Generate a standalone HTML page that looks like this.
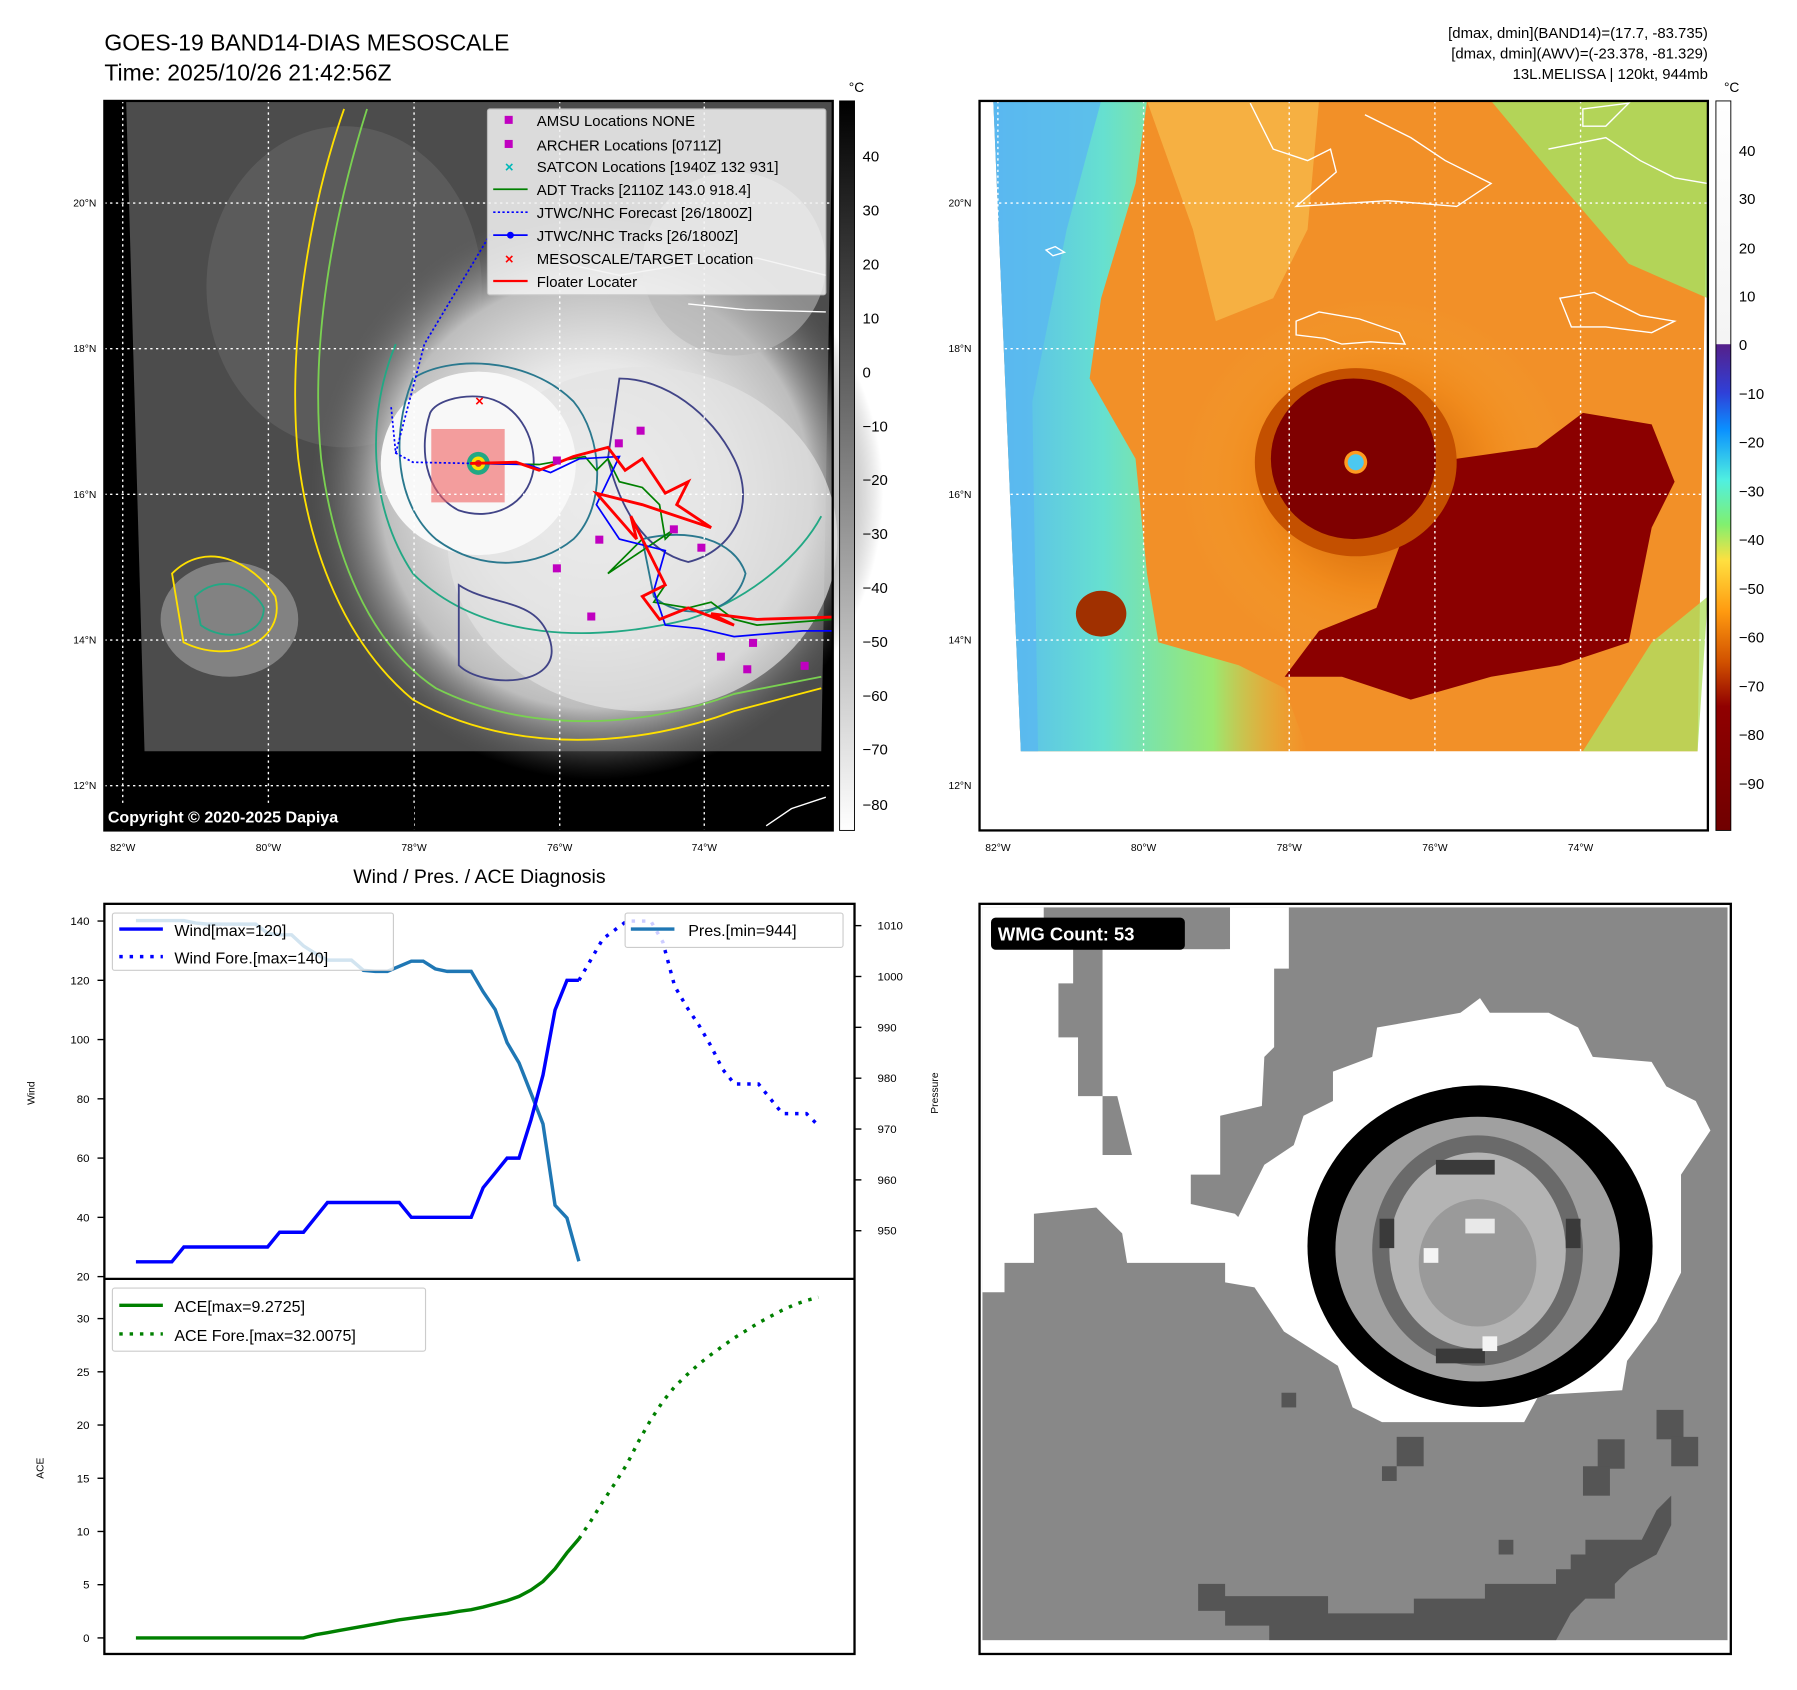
<!DOCTYPE html>
<html><head><meta charset="utf-8">
<style>
html,body{margin:0;padding:0;background:#fff;}
svg{display:block;font-family:"Liberation Sans","DejaVu Sans",sans-serif;}
</style></head>
<body>
<svg id="root" width="1797" height="1690" viewBox="0 0 1797 1690">
<defs>
<radialGradient id="cloudL" cx="0.5" cy="0.5" r="0.5">
<stop offset="0" stop-color="#ffffff"/><stop offset="0.45" stop-color="#e8e8e8"/><stop offset="0.75" stop-color="#bdbdbd"/><stop offset="1" stop-color="#5a5a5a" stop-opacity="0"/>
</radialGradient>
<radialGradient id="warmR" cx="0.5" cy="0.5" r="0.5">
<stop offset="0" stop-color="#c85a00"/><stop offset="0.6" stop-color="#f08a1c"/><stop offset="1" stop-color="#f5a030" stop-opacity="0"/>
</radialGradient>
<linearGradient id="leftR" x1="0" y1="0" x2="1" y2="0">
<stop offset="0" stop-color="#5ab8f0"/><stop offset="0.35" stop-color="#66e0d0"/><stop offset="0.7" stop-color="#9be870"/><stop offset="1" stop-color="#f0c040" stop-opacity="0"/>
</linearGradient>
<linearGradient id="cbL" x1="0" y1="0" x2="0" y2="1">
<stop offset="0" stop-color="#000"/><stop offset="1" stop-color="#fff"/>
</linearGradient>
<linearGradient id="cbR" x1="0" y1="0" x2="0" y2="1">
<stop offset="0" stop-color="#ffffff"/><stop offset="0.333" stop-color="#f4f4f4"/>
<stop offset="0.334" stop-color="#55208a"/><stop offset="0.4" stop-color="#2f40d8"/><stop offset="0.45" stop-color="#0a90ff"/>
<stop offset="0.52" stop-color="#50f0e0"/><stop offset="0.58" stop-color="#80f070"/><stop offset="0.63" stop-color="#ffe040"/>
<stop offset="0.7" stop-color="#ff9a10"/><stop offset="0.77" stop-color="#d05000"/><stop offset="0.83" stop-color="#900000"/><stop offset="1" stop-color="#700000"/>
</linearGradient>
</defs>
<g id="main" transform="scale(1.147)">

<!-- Titles -->
<text x="91" y="44" font-size="20">GOES-19 BAND14-DIAS MESOSCALE</text>
<text x="91" y="70" font-size="20">Time: 2025/10/26 21:42:56Z</text>
<g font-size="13" text-anchor="end">
<text x="1489" y="33">[dmax, dmin](BAND14)=(17.7, -83.735)</text>
<text x="1489" y="51">[dmax, dmin](AWV)=(-23.378, -81.329)</text>
<text x="1489" y="69">13L.MELISSA | 120kt, 944mb</text>
</g>

<!-- TOP LEFT MAP -->
<g>
<rect x="91" y="88" width="635" height="636" fill="#000"/>
<polygon points="110,88 726,88 716,655 126,655" fill="#4c4c4c"/>
<ellipse cx="300" cy="250" rx="120" ry="140" fill="#666" opacity="0.6"/>
<ellipse cx="200" cy="540" rx="60" ry="50" fill="#9a9a9a" opacity="0.7"/>
<ellipse cx="520" cy="430" rx="250" ry="250" fill="url(#cloudL)"/>
<ellipse cx="560" cy="470" rx="170" ry="150" fill="#e2e2e2" opacity="0.7"/>
<ellipse cx="417" cy="404" rx="85" ry="80" fill="#f8f8f8"/>
<ellipse cx="640" cy="230" rx="80" ry="80" fill="#b8b8b8" opacity="0.6"/>
<g fill="none" stroke-width="1.6">
<path d="M300,95 C270,180 250,300 260,400 C270,480 300,560 360,610 C450,660 560,650 640,620 L716,600" stroke="#ffe000"/>
<path d="M320,95 C290,190 270,300 280,400 C290,480 320,560 380,600 C460,640 560,635 640,605 L716,590" stroke="#7ad151"/>
<path d="M345,300 C320,360 320,440 360,500 C420,560 520,560 600,540 C660,520 700,480 716,450" stroke="#22a884"/>
<path d="M360,330 C340,380 345,440 380,470 C420,500 470,495 500,470 C530,440 525,380 500,350 C460,310 390,310 360,330Z" stroke="#2a788e"/>
<path d="M375,360 C365,390 370,430 400,445 C430,455 460,440 465,410 C468,380 450,350 420,346 C400,344 380,350 375,360Z" stroke="#414487"/>
<path d="M400,510 C430,530 470,520 480,560 C490,600 420,600 400,580 Z" stroke="#414487"/>
<path d="M540,330 C580,330 620,360 640,400 C660,440 640,480 600,490 C560,480 540,440 530,400 Z" stroke="#414487"/>
<path d="M560,470 C600,460 640,470 650,500 C640,540 590,540 570,520 Z" stroke="#2a788e"/>
<path d="M150,500 C180,470 220,490 240,520 C250,560 200,580 160,560 Z" stroke="#ffe000"/>
<path d="M170,520 C190,500 220,510 230,530 C230,555 195,560 175,545 Z" stroke="#22a884"/>
</g>
<rect x="376" y="374" width="64" height="64" fill="#f06060" opacity="0.6"/>
<circle cx="417" cy="404" r="10" fill="#22a884"/><circle cx="417" cy="404" r="6" fill="#ffe000"/><circle cx="417" cy="404" r="3" fill="#c03030"/>
<g stroke="#fff" stroke-width="1.2" stroke-dasharray="2,3" fill="none">
<line x1="107" y1="88" x2="107" y2="724"/><line x1="234" y1="88" x2="234" y2="724"/><line x1="361" y1="88" x2="361" y2="724"/><line x1="488" y1="88" x2="488" y2="724"/><line x1="614" y1="88" x2="614" y2="724"/>
<line x1="91" y1="177" x2="726" y2="177"/><line x1="91" y1="304" x2="726" y2="304"/><line x1="91" y1="431" x2="726" y2="431"/><line x1="91" y1="558" x2="726" y2="558"/><line x1="91" y1="685" x2="726" y2="685"/>
</g>
<path d="M470,225 L540,240 L600,230 L660,225 L720,240 M600,265 L650,270 L720,272" stroke="#fff" stroke-width="1.2" fill="none"/>
<path d="M668,720 L690,705 L720,695" stroke="#fff" stroke-width="1.2" fill="none"/>
<polyline points="341,355 345,395 360,403 410,404" fill="none" stroke="#0000ff" stroke-width="1.5" stroke-dasharray="2,2"/>
<polyline points="345,395 370,300 400,250 430,200" fill="none" stroke="#0000ff" stroke-width="1.5" stroke-dasharray="2,2"/>
<polyline points="415,404 470,405 510,398 520,410 530,400 540,420 560,425 575,440 580,470 590,460 560,480 530,500 560,470 580,510 570,525 600,530 620,525 640,540 660,545 726,540" fill="none" stroke="#008000" stroke-width="1.5"/>
<polyline points="410,404 460,405 480,412 505,400 540,398 520,440 540,470 580,480 570,515 580,545 610,548 640,555 700,550 726,550" fill="none" stroke="#0000ff" stroke-width="1.5"/>
<polyline points="410,404 450,403 470,410 500,398 530,390 545,410 560,400 580,430 600,420 590,440 620,460 560,440 520,430 555,470 550,450 580,510 560,520 575,540 600,530 640,545 620,535 660,540 726,538" fill="none" stroke="#ff0000" stroke-width="2.5"/>
<g fill="#c000c0">
<rect x="482" y="398" width="7" height="7"/><rect x="536" y="383" width="7" height="7"/><rect x="555" y="372" width="7" height="7"/><rect x="519" y="467" width="7" height="7"/><rect x="584" y="458" width="7" height="7"/><rect x="608" y="474" width="7" height="7"/><rect x="512" y="534" width="7" height="7"/><rect x="625" y="569" width="7" height="7"/><rect x="648" y="580" width="7" height="7"/><rect x="698" y="577" width="7" height="7"/><rect x="482" y="492" width="7" height="7"/><rect x="653" y="557" width="7" height="7"/>
</g>
<text x="418" y="354" font-size="13" fill="#ff0000" text-anchor="middle" font-weight="bold">×</text>
<rect x="91" y="701" width="270" height="22" fill="#000"/>
<text x="94" y="717" font-size="14" font-weight="bold" fill="#fff">Copyright © 2020-2025 Dapiya</text>
<rect x="91" y="88" width="635" height="636" fill="none" stroke="#000" stroke-width="2"/>
</g>
<!-- legend -->
<g font-size="13">
<rect x="425" y="95" width="295" height="162" fill="#f4f4f4" opacity="0.85" stroke="#ccc" rx="2"/>
<rect x="440" y="101" width="7" height="7" fill="#c000c0"/><text x="468" y="110">AMSU Locations NONE</text>
<rect x="440" y="122" width="7" height="7" fill="#c000c0"/><text x="468" y="131">ARCHER Locations [0711Z]</text>
<text x="444" y="150" fill="#00b8b8" text-anchor="middle" font-weight="bold">×</text><text x="468" y="150">SATCON Locations [1940Z 132 931]</text>
<line x1="430" y1="165" x2="460" y2="165" stroke="#008000" stroke-width="1.5"/><text x="468" y="170">ADT Tracks [2110Z 143.0 918.4]</text>
<line x1="430" y1="185" x2="460" y2="185" stroke="#0000ff" stroke-width="1.5" stroke-dasharray="2,2"/><text x="468" y="190">JTWC/NHC Forecast [26/1800Z]</text>
<line x1="430" y1="205" x2="460" y2="205" stroke="#0000ff" stroke-width="1.5"/><circle cx="445" cy="205" r="3" fill="#0000ff"/><text x="468" y="210">JTWC/NHC Tracks [26/1800Z]</text>
<text x="444" y="230" fill="#ff0000" text-anchor="middle" font-weight="bold">×</text><text x="468" y="230">MESOSCALE/TARGET Location</text>
<line x1="430" y1="245" x2="460" y2="245" stroke="#ff0000" stroke-width="2"/><text x="468" y="250">Floater Locater</text>
</g>
<!-- left map axes labels -->
<g font-size="9">
<text x="84" y="180" text-anchor="end">20°N</text><text x="84" y="307" text-anchor="end">18°N</text><text x="84" y="434" text-anchor="end">16°N</text><text x="84" y="561" text-anchor="end">14°N</text><text x="84" y="688" text-anchor="end">12°N</text>
<text x="107" y="742" text-anchor="middle">82°W</text><text x="234" y="742" text-anchor="middle">80°W</text><text x="361" y="742" text-anchor="middle">78°W</text><text x="488" y="742" text-anchor="middle">76°W</text><text x="614" y="742" text-anchor="middle">74°W</text>
</g>
<!-- left colorbar -->
<g>
<rect x="732" y="88" width="13" height="636" fill="url(#cbL)" stroke="#000" stroke-width="0.8"/>
<text x="740" y="80" font-size="12">°C</text>
<g font-size="13"><text x="752" y="141">40</text><text x="752" y="188">30</text><text x="752" y="235">20</text><text x="752" y="282">10</text><text x="752" y="329">0</text><text x="752" y="376">−10</text><text x="752" y="423">−20</text><text x="752" y="470">−30</text><text x="752" y="517">−40</text><text x="752" y="564">−50</text><text x="752" y="611">−60</text><text x="752" y="658">−70</text><text x="752" y="706">−80</text></g>
</g>

<!-- TOP RIGHT MAP -->
<g>
<rect x="854" y="88" width="635" height="636" fill="#fff"/>
<polygon points="866,88 1489,88 1480,655 890,655" fill="#f29028"/>
<polygon points="866,88 1000,88 990,160 960,260 950,330 990,400 1000,500 1010,560 1080,580 1120,600 1140,655 890,655" fill="url(#leftR)"/>
<polygon points="866,88 960,88 930,200 900,350 905,655 890,655" fill="#5ab8f0" opacity="0.8"/>
<polygon points="1000,88 1150,88 1140,200 1110,260 1060,280 1040,200" fill="#f6b848" opacity="0.8"/>
<polygon points="1300,88 1489,88 1489,260 1420,230 1360,160" fill="#a8e060" opacity="0.85"/>
<polygon points="1440,560 1489,520 1480,655 1380,655" fill="#b0e060" opacity="0.8"/>
<ellipse cx="1200" cy="420" rx="170" ry="160" fill="url(#warmR)"/>
<path d="M1230,450 L1270,400 L1340,390 L1380,360 L1440,370 L1460,420 L1440,460 L1420,560 L1360,580 L1300,590 L1230,610 L1170,590 L1120,590 L1150,550 L1200,530 Z" fill="#8b0000"/>
<ellipse cx="1182" cy="403" rx="88" ry="82" fill="#c45000"/>
<ellipse cx="1180" cy="400" rx="72" ry="70" fill="#7f0000"/>
<circle cx="1182" cy="403" r="10" fill="#ff9a20"/><circle cx="1182" cy="403" r="7" fill="#4cc8f0"/>
<ellipse cx="960" cy="535" rx="22" ry="20" fill="#a03000"/>
<g stroke="#fff" stroke-width="1.2" stroke-dasharray="2,3" fill="none">
<line x1="870" y1="88" x2="870" y2="655"/><line x1="997" y1="88" x2="997" y2="655"/><line x1="1124" y1="88" x2="1124" y2="655"/><line x1="1251" y1="88" x2="1251" y2="655"/><line x1="1378" y1="88" x2="1378" y2="655"/>
<line x1="866" y1="177" x2="1489" y2="177"/><line x1="866" y1="304" x2="1489" y2="304"/><line x1="866" y1="431" x2="1489" y2="431"/><line x1="866" y1="558" x2="1489" y2="558"/>
</g>
<g stroke="#fff" stroke-width="1.2" fill="none">
<path d="M1090,90 L1110,130 L1140,140 L1160,130 L1165,150 L1130,180 L1210,175 L1270,180 L1300,160 L1260,140 L1230,120 L1190,100"/>
<path d="M1130,280 L1150,272 L1185,278 L1220,290 L1225,300 L1195,298 L1170,300 L1155,295 L1130,292 Z"/>
<path d="M1360,260 L1390,255 L1430,275 L1460,280 L1440,290 L1400,285 L1370,285 Z"/>
<path d="M1350,130 L1400,120 L1430,140 L1460,155 L1489,160"/>
<path d="M1380,95 L1420,90 L1400,110 L1380,110 Z"/>
<path d="M912,218 L920,215 L928,220 L918,223 Z"/>
</g>
<rect x="854" y="88" width="635" height="636" fill="none" stroke="#000" stroke-width="2"/>
</g>
<g font-size="9">
<text x="847" y="180" text-anchor="end">20°N</text><text x="847" y="307" text-anchor="end">18°N</text><text x="847" y="434" text-anchor="end">16°N</text><text x="847" y="561" text-anchor="end">14°N</text><text x="847" y="688" text-anchor="end">12°N</text>
<text x="870" y="742" text-anchor="middle">82°W</text><text x="997" y="742" text-anchor="middle">80°W</text><text x="1124" y="742" text-anchor="middle">78°W</text><text x="1251" y="742" text-anchor="middle">76°W</text><text x="1378" y="742" text-anchor="middle">74°W</text>
</g>
<g>
<rect x="1496" y="88" width="13" height="636" fill="url(#cbR)" stroke="#000" stroke-width="0.8"/>
<text x="1503" y="80" font-size="12">°C</text>
<g font-size="13"><text x="1516" y="136">40</text><text x="1516" y="178">30</text><text x="1516" y="221">20</text><text x="1516" y="263">10</text><text x="1516" y="305">0</text><text x="1516" y="348">−10</text><text x="1516" y="390">−20</text><text x="1516" y="433">−30</text><text x="1516" y="475">−40</text><text x="1516" y="518">−50</text><text x="1516" y="560">−60</text><text x="1516" y="603">−70</text><text x="1516" y="645">−80</text><text x="1516" y="688">−90</text></g>
</g>

<!-- BOTTOM LEFT CHART -->
<text x="418" y="770" font-size="17" text-anchor="middle">Wind / Pres. / ACE Diagnosis</text>
<g id="chart">
<rect x="91" y="788" width="654" height="654" fill="#fff"/>
</g>
<rect x="91" y="788" width="654" height="654" fill="none" stroke="#000" stroke-width="2"/>
<line x1="91" y1="1115" x2="745" y2="1115" stroke="#000" stroke-width="2"/>
<text transform="translate(30,953) rotate(-90)" font-size="9" text-anchor="middle">Wind</text>
<text transform="translate(818,953) rotate(-90)" font-size="9" text-anchor="middle">Pressure</text>
<text transform="translate(38,1280) rotate(-90)" font-size="9" text-anchor="middle">ACE</text>
<g font-size="14">
<rect x="98" y="796" width="245" height="50" fill="#fff" fill-opacity="0.8" stroke="#ccc" rx="2"/>
<line x1="104" y1="810" x2="142" y2="810" stroke="#0000ff" stroke-width="3"/><text x="152" y="816">Wind[max=120]</text>
<line x1="104" y1="834" x2="142" y2="834" stroke="#0000ff" stroke-width="3" stroke-dasharray="3,6"/><text x="152" y="840">Wind Fore.[max=140]</text>
</g>
<g font-size="14">
<rect x="545" y="796" width="190" height="30" fill="#fff" fill-opacity="0.8" stroke="#ccc" rx="2"/>
<line x1="550" y1="810" x2="588" y2="810" stroke="#1f77b4" stroke-width="3"/><text x="600" y="816">Pres.[min=944]</text>
</g>
<g font-size="14">
<rect x="98" y="1123" width="273" height="55" fill="#fff" fill-opacity="0.8" stroke="#ccc" rx="2"/>
<line x1="104" y1="1138" x2="142" y2="1138" stroke="#008000" stroke-width="3"/><text x="152" y="1144">ACE[max=9.2725]</text>
<line x1="104" y1="1163" x2="142" y2="1163" stroke="#008000" stroke-width="3" stroke-dasharray="3,6"/><text x="152" y="1169">ACE Fore.[max=32.0075]</text>
</g>

<!-- BOTTOM RIGHT WMG -->
<g>
<rect x="854" y="788" width="655" height="654" fill="#fff"/>
<g transform="translate(854.4,784.7) scale(0.4274)">
<rect x="5" y="15" width="1520" height="1495" fill="#888"/>
<polygon points="5,15 130,15 130,100 190,100 190,170 160,170 160,280 200,280 200,400 250,400 250,520 310,520 310,620 110,640 110,740 50,740 50,800 5,800" fill="#fff"/>
<polygon points="250,100 510,100 510,15 630,15 630,140 600,140 600,300 580,320 575,420 490,440 490,560 430,560 430,620 520,640 580,700 580,740 300,740 290,680 230,620 250,520 310,520 280,400 250,400 250,200" fill="#fff"/>
<polygon points="280,20 500,20 500,100 280,100" fill="#888"/>
<polygon points="560,790 620,880 730,950 760,1035 820,1065 1110,1065 1140,1010 1310,1000 1320,940 1380,860 1430,760 1430,560 1490,470 1460,410 1400,380 1370,330 1250,320 1220,260 1160,230 1040,230 1020,200 980,230 810,260 800,320 720,350 720,410 660,440 640,500 580,540 540,620 500,700 500,780" fill="#fff"/>
<ellipse cx="1020" cy="706" rx="352" ry="328" fill="#000"/>
<ellipse cx="1015" cy="712" rx="290" ry="270" fill="#a0a0a0"/>
<ellipse cx="1015" cy="715" rx="215" ry="235" fill="#6a6a6a"/>
<ellipse cx="1015" cy="715" rx="180" ry="200" fill="#b4b4b4"/>
<ellipse cx="1015" cy="740" rx="120" ry="130" fill="#9a9a9a"/>
<rect x="930" y="530" width="120" height="30" fill="#3a3a3a"/><rect x="930" y="915" width="100" height="30" fill="#3a3a3a"/>
<rect x="815" y="650" width="30" height="60" fill="#3a3a3a"/><rect x="1195" y="650" width="30" height="60" fill="#3a3a3a"/>
<rect x="990" y="650" width="60" height="30" fill="#e8e8e8"/><rect x="905" y="710" width="30" height="30" fill="#f4f4f4"/><rect x="1025" y="890" width="30" height="30" fill="#f4f4f4"/>
<polygon points="445,1395 500,1395 500,1420 710,1420 710,1455 885,1455 885,1425 1030,1425 1030,1395 1175,1395 1175,1365 1205,1365 1205,1335 1235,1335 1235,1305 1350,1305 1380,1245 1410,1215 1410,1275 1380,1335 1325,1365 1295,1395 1295,1425 1235,1425 1205,1455 1175,1510 590,1510 590,1480 500,1480 500,1450 445,1450" fill="#555"/>
<rect x="1380" y="1040" width="55" height="60" fill="#555"/><rect x="1410" y="1095" width="55" height="60" fill="#555"/>
<rect x="1260" y="1100" width="55" height="60" fill="#555"/><rect x="1230" y="1155" width="55" height="60" fill="#555"/>
<rect x="850" y="1095" width="55" height="60" fill="#555"/><rect x="820" y="1155" width="30" height="30" fill="#555"/><rect x="615" y="1005" width="30" height="30" fill="#555"/><rect x="1058" y="1305" width="30" height="30" fill="#555"/>
<rect x="5" y="1510" width="1540" height="45" fill="#fff"/>
<rect x="1525" y="15" width="20" height="1500" fill="#fff"/>
</g>
<rect x="864" y="800" width="169" height="28" rx="4" fill="#000"/>
<text x="870" y="820" font-size="16" font-weight="bold" fill="#fff">WMG Count: 53</text>
<rect x="854" y="788" width="655" height="654" fill="none" stroke="#000" stroke-width="2"/>
</g>
</g>
</svg>
<script>
// Chart data (index = 6-hourly time step)
const windObs = [25,25,25,25,30,30,30,30,30,30,30,30,35,35,35,40,45,45,45,45,45,45,45,40,40,40,40,40,40,50,55,60,60,73,88,110,120,120];
const windFore = [120,127,134,137,140,140,140,133,118,111,105,98,90,85,85,85,80,75,75,75,71];
const presObs = [1011,1011,1011,1011,1011,1010.5,1010.3,1010.3,1010.3,1010.3,1010.3,1008.5,1008.2,1008.2,1006,1004.5,1003.2,1003.2,1003.2,1001.2,1001,1001,1002,1003,1003,1001.5,1001,1001,1001,997,993.5,987,983,977,971,955,952.5,944];
const aceObs = [0,0,0,0,0,0,0,0,0,0,0,0,0,0,0,0.3,0.5,0.7,0.9,1.1,1.3,1.5,1.7,1.85,2.0,2.15,2.3,2.5,2.65,2.9,3.2,3.5,3.9,4.5,5.3,6.5,8,9.3];
const aceFore = [9.3,11,12.8,14.5,16.3,18.5,20.5,22.2,23.6,24.7,25.7,26.6,27.4,28.2,28.9,29.6,30.2,30.8,31.3,31.7,32];
const windTicks = [20,40,60,80,100,120,140];
const presTicks = [950,960,970,980,990,1000,1010];
const aceTicks = [0,5,10,15,20,25,30];
const foreStart = 37;
const nSteps = 57;

const NS = 'http://www.w3.org/2000/svg';
const chart = document.getElementById('chart');
const xScale = i => 118.5 + i * (713.5 - 118.5) / nSteps;
const yWind = v => 1113 + (v - 20) * (803 - 1113) / 120;
const yPres = v => 1073 + (v - 950) * (807 - 1073) / 60;
const yAce = v => 1428 + v * (1149.6 - 1428) / 30;

function line(pts, color, dashed, name) {
  const p = document.createElementNS(NS, 'polyline');
  p.setAttribute('points', pts.map(q => q[0].toFixed(1) + ',' + q[1].toFixed(1)).join(' '));
  p.setAttribute('fill', 'none');
  p.setAttribute('stroke', color);
  p.setAttribute('stroke-width', '3');
  if (dashed) p.setAttribute('stroke-dasharray', '3,6');
  
  
  chart.appendChild(p);
}
function tick(x1, y, x2, label, anchor, tx, name) {
  const l = document.createElementNS(NS, 'line');
  l.setAttribute('x1', x1); l.setAttribute('x2', x2);
  l.setAttribute('y1', y); l.setAttribute('y2', y);
  l.setAttribute('stroke', '#000'); l.setAttribute('stroke-width', '1.2');
  
  
  chart.appendChild(l);
  const t = document.createElementNS(NS, 'text');
  t.setAttribute('x', tx); t.setAttribute('y', y + 3.5);
  t.setAttribute('font-size', '10'); t.setAttribute('text-anchor', anchor);
  t.textContent = label;
  
  
  chart.appendChild(t);
}
windTicks.forEach(v => tick(85, yWind(v), 91, String(v), 'end', 78, 'wind'));
presTicks.forEach(v => tick(745, yPres(v), 751, String(v), 'start', 765, 'pressure'));
aceTicks.forEach(v => tick(85, yAce(v), 91, String(v), 'end', 78, 'ace'));

line(presObs.map((v, i) => [xScale(i), yPres(v)]), '#1f77b4', false, 'pressure-line');
line(windObs.map((v, i) => [xScale(i), yWind(v)]), '#0000ff', false, 'wind-line');
line(windFore.map((v, i) => [xScale(i + foreStart), yWind(v)]), '#0000ff', true, 'wind-forecast-line');
line(aceObs.map((v, i) => [xScale(i), yAce(v)]), '#008000', false, 'ace-line');
line(aceFore.map((v, i) => [xScale(i + foreStart), yAce(v)]), '#008000', true, 'ace-forecast-line');
</script>
</body></html>
